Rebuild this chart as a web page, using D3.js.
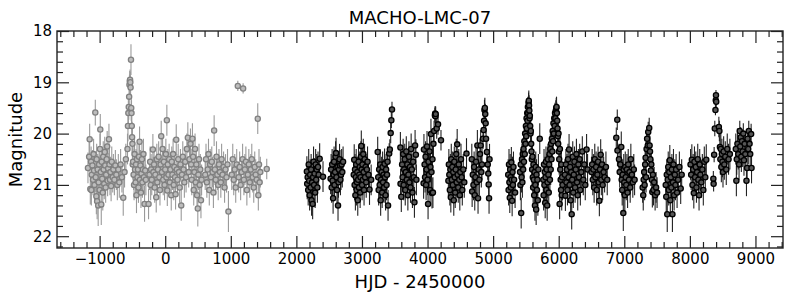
<!DOCTYPE html>
<html>
<head>
<meta charset="utf-8">
<script src="https://cdn.jsdelivr.net/npm/d3@7"></script>
<style>
  body { margin: 0; background: #fff; }
  svg { font-family: "DejaVu Sans", sans-serif; }
</style>
</head>
<body>
<div id="chart"></div>
<script>
// [HJD - 2450000, magnitude, error]
const macho = [
  [-1178,20.67,0.3],[-1160,20.45,0.3],[-1152,20.11,0.3],[-1142,21.08,0.3],[-1130,20.55,0.3],[-1126,21.1,0.3],[-1120,20.8,0.3],
  [-1110,20.62,0.3],[-1100,20.9,0.3],[-1092,20.4,0.3],[-1085,20.72,0.3],[-1078,21.0,0.35],[-1066,19.59,0.25],[-1060,20.85,0.3],
  [-1050,21.22,0.35],[-1045,20.5,0.3],[-1038,21.32,0.35],[-1030,20.7,0.3],[-1022,21.4,0.4],[-1015,20.95,0.3],[-1008,20.6,0.3],
  [-1000,21.1,0.35],[-995,20.3,0.3],[-990,19.92,0.3],[-982,20.75,0.3],[-975,21.38,0.4],[-968,20.55,0.3],[-960,20.88,0.3],
  [-952,21.15,0.35],[-945,20.45,0.3],[-938,20.7,0.3],[-930,20.98,0.3],[-922,20.36,0.3],[-915,20.62,0.3],[-908,21.05,0.3],
  [-900,20.8,0.3],[-892,20.5,0.3],[-885,20.25,0.3],[-878,20.92,0.3],[-870,20.68,0.3],[-858,20.11,0.3],[-850,20.6,0.3],
  [-842,20.9,0.3],[-835,20.75,0.3],[-825,21.02,0.3],[-815,20.55,0.3],[-800,20.85,0.3],[-790,20.7,0.3],[-775,20.9,0.3],
  [-760,20.62,0.3],[-745,20.8,0.3],[-730,21.0,0.3],[-715,20.7,0.3],[-700,20.95,0.3],[-680,20.6,0.3],[-660,20.85,0.3],
  [-640,21.25,0.35],[-620,20.75,0.3],[-600,20.5,0.3],
  [-575,20.3,0.3],[-568,19.85,0.3],[-562,19.6,0.25],[-556,19.48,0.25],[-550,19.28,0.2],[-545,19.05,0.2],[-540,18.98,0.2],
  [-536,18.95,0.2],[-532,19.0,0.2],[-528,19.1,0.2],[-522,18.56,0.3],[-518,19.5,0.25],[-514,19.6,0.25],[-510,19.85,0.3],
  [-505,20.07,0.3],[-500,20.2,0.3],[-495,20.6,0.3],
  [-490,20.55,0.3],[-482,20.8,0.3],[-475,21.0,0.3],[-468,20.4,0.3],[-460,20.7,0.3],[-452,20.95,0.3],[-445,20.6,0.3],
  [-438,21.2,0.35],[-430,20.5,0.3],[-422,20.85,0.3],[-415,20.7,0.3],[-408,21.05,0.3],[-400,20.45,0.3],[-391,20.16,0.3],
  [-385,20.9,0.3],[-378,20.62,0.3],[-370,21.15,0.3],[-362,20.78,0.3],[-355,20.5,0.3],[-348,20.95,0.3],[-340,20.7,0.3],
  [-332,20.4,0.3],[-325,20.85,0.3],[-315,21.37,0.35],[-305,20.72,0.3],[-295,20.9,0.3],
  [-254,21.37,0.3],[-240,20.8,0.3],[-230,20.55,0.3],[-222,21.0,0.3],[-215,20.7,0.3],[-205,20.9,0.3],[-188,20.31,0.3],
  [-180,20.75,0.3],[-170,20.6,0.3],[-160,21.05,0.3],[-150,20.8,0.3],[-137,21.24,0.3],[-128,20.5,0.3],[-120,20.95,0.3],
  [-110,20.7,0.3],[-100,20.45,0.3],[-90,20.85,0.3],[-80,21.1,0.3],[-70,20.6,0.3],[-61,20.05,0.3],[-50,20.75,0.3],
  [-40,20.3,0.3],[-30,20.9,0.3],[-20,20.55,0.3],[-10,21.0,0.3],[0,20.7,0.3],[10,20.4,0.3],[18,20.85,0.3],[25,19.74,0.3],
  [32,21.11,0.3],[40,20.6,0.3],[50,20.8,0.3],[60,20.5,0.3],
  [70,20.95,0.3],[80,20.7,0.3],[92,21.2,0.3],[100,20.55,0.3],[110,20.8,0.3],[120,20.4,0.3],[130,21.0,0.3],[140,20.65,0.3],
  [150,20.85,0.3],[158,21.18,0.3],[168,20.12,0.3],[178,20.7,0.3],[188,20.9,0.3],[198,20.5,0.3],[210,20.75,0.3],
  [220,21.05,0.3],[232,20.6,0.3],[244,21.4,0.3],[255,20.8,0.3],[268,20.45,0.3],[280,20.7,0.3],[292,20.95,0.3],
  [305,20.55,0.3],[318,20.85,0.3],[330,20.3,0.3],[345,20.08,0.3],[358,20.75,0.3],[370,20.5,0.3],
  [385,20.2,0.3],[395,20.6,0.3],[405,20.9,0.3],[415,20.1,0.3],[425,20.45,0.3],[435,21.1,0.3],[445,20.75,0.3],
  [455,20.3,0.3],[465,20.95,0.3],[475,20.6,0.3],[485,21.2,0.3],[497,21.46,0.35],[505,20.8,0.3],[515,20.5,0.3],
  [525,21.0,0.3],[535,20.7,0.3],[545,21.3,0.35],[555,20.9,0.3],
  [610,20.8,0.3],[622,20.5,0.3],[635,20.95,0.3],[648,20.7,0.3],[660,20.4,0.3],[672,21.1,0.3],[685,20.6,0.3],
  [698,20.85,0.3],[710,20.55,0.3],[722,20.75,0.3],[735,21.15,0.3],[746,19.94,0.3],[758,20.7,0.3],[770,20.9,0.3],
  [782,20.45,0.3],[795,20.8,0.3],[808,21.0,0.3],[820,20.6,0.3],[835,20.75,0.3],[848,20.95,0.3],[860,20.5,0.3],
  [875,20.8,0.3],[890,20.65,0.3],[905,21.05,0.3],[920,20.7,0.3],[935,20.85,0.3],[950,20.6,0.3],[964,21.52,0.4],
  [1015,20.8,0.3],[1030,20.5,0.3],[1045,20.9,0.3],[1060,20.7,0.3],[1075,21.05,0.3],[1090,20.6,0.3],[1107,19.07,0.1],
  [1120,20.85,0.3],[1135,20.65,0.3],[1150,21.0,0.3],[1165,20.75,0.3],[1180,20.5,0.3],[1188,19.12,0.1],[1200,20.9,0.3],
  [1215,20.7,0.3],[1230,20.55,0.3],[1245,21.1,0.3],[1260,20.8,0.3],[1275,20.6,0.3],[1290,20.95,0.3],[1305,20.7,0.3],
  [1320,20.5,0.3],[1335,20.85,0.3],[1350,21.05,0.3],[1365,20.65,0.3],[1380,20.8,0.3],[1395,20.9,0.3],[1411,19.71,0.3],
  [1420,21.2,0.3],[1430,20.6,0.3],[1440,20.95,0.3],[1450,20.75,0.3],[1548,20.69,0.2]
];

const ogle = [
  [2160,20.74,0.3],[2165,20.98,0.3],[2172,20.85,0.3],[2180,21.1,0.3],[2188,20.6,0.3],[2195,20.92,0.3],[2202,21.2,0.3],
  [2210,20.8,0.3],[2218,21.05,0.3],[2225,20.7,0.3],[2232,21.3,0.3],[2240,20.95,0.3],[2248,21.37,0.3],[2255,20.85,0.3],
  [2262,20.55,0.3],[2270,21.0,0.3],[2278,20.78,0.3],[2286,21.15,0.3],[2294,20.6,0.3],[2302,20.9,0.3],[2310,20.7,0.3],
  [2320,21.05,0.3],[2330,20.65,0.3],[2340,20.8,0.3],[2355,20.49,0.3],[2406,20.84,0.3],
  [2522,20.88,0.3],[2530,20.7,0.3],[2538,21.05,0.3],[2545,20.6,0.3],[2552,20.92,0.3],[2560,21.26,0.3],[2568,20.8,0.3],
  [2575,20.55,0.3],[2582,21.0,0.3],[2590,20.75,0.3],[2598,20.45,0.3],[2605,20.38,0.3],[2612,20.85,0.3],[2620,21.1,0.3],
  [2628,20.65,0.3],[2635,21.4,0.3],[2642,20.95,0.3],[2650,20.7,0.3],[2658,20.5,0.3],[2665,20.62,0.3],[2672,20.9,0.3],
  [2680,20.8,0.3],[2690,20.6,0.3],[2700,20.75,0.3],[2712,20.55,0.3],
  [2875,20.8,0.3],[2882,20.51,0.3],[2888,21.0,0.3],[2894,20.7,0.3],[2900,21.2,0.3],[2906,20.85,0.3],[2912,20.6,0.3],
  [2918,21.1,0.3],[2924,20.95,0.3],[2930,20.75,0.3],[2936,21.3,0.3],[2942,20.9,0.3],[2948,20.55,0.3],[2954,21.05,0.3],
  [2960,20.8,0.3],[2966,20.65,0.3],[2972,21.15,0.3],[2978,20.85,0.3],[2984,20.45,0.3],[2990,20.24,0.3],[2996,20.7,0.3],
  [3002,21.0,0.3],[3008,20.6,0.3],[3014,20.9,0.3],[3020,20.4,0.3],[3026,20.75,0.3],[3032,21.1,0.3],[3040,20.5,0.3],
  [3048,20.85,0.3],[3056,20.65,0.3],[3065,20.95,0.3],[3075,20.7,0.3],[3085,20.55,0.3],[3100,20.8,0.3],[3115,21.09,0.3],
  [3140,20.9,0.3],
  [3240,20.36,0.3],[3248,20.85,0.3],[3255,21.1,0.3],[3262,20.7,0.3],[3270,21.0,0.3],[3278,20.6,0.3],[3285,21.3,0.3],
  [3292,20.9,0.3],[3300,20.75,0.3],[3308,21.15,0.3],[3315,20.65,0.3],[3322,20.95,0.3],[3330,20.8,0.3],[3338,21.05,0.3],
  [3345,20.59,0.3],[3352,20.85,0.3],[3360,21.2,0.3],[3368,20.7,0.3],[3375,21.0,0.3],[3382,20.8,0.3],[3390,20.55,0.3],
  [3398,21.4,0.3],[3415,20.39,0.2],[3425,20.31,0.2],[3438,19.99,0.2],[3448,19.74,0.15],[3458,19.53,0.15],
  [3586,20.27,0.3],[3588,20.98,0.3],[3600,21.23,0.3],[3612,20.6,0.3],[3620,20.85,0.3],[3628,20.4,0.3],[3636,21.0,0.3],
  [3644,20.7,0.3],[3652,20.5,0.3],[3660,21.1,0.3],[3668,20.75,0.3],[3676,20.35,0.3],[3684,20.9,0.3],[3692,20.6,0.3],
  [3700,21.2,0.3],[3708,20.8,0.3],[3716,20.45,0.3],[3724,20.95,0.3],[3732,20.65,0.3],[3740,21.05,0.3],[3750,20.3,0.3],
  [3760,20.7,0.3],[3770,21.15,0.3],[3780,20.55,0.3],[3790,20.85,0.3],[3800,21.34,0.3],[3810,20.23,0.3],[3822,20.41,0.3],
  [3830,20.9,0.3],
  [3940,20.97,0.3],[3945,20.31,0.3],[3955,20.6,0.3],[3962,20.85,0.3],[3970,20.45,0.3],[3978,21.0,0.3],[3985,20.7,0.3],
  [3992,20.25,0.3],[4000,20.9,0.3],[4008,21.37,0.3],[4015,20.55,0.3],[4022,20.8,0.3],[4030,20.35,0.3],[4038,21.1,0.3],
  [4045,20.65,0.3],[4052,20.01,0.3],[4060,20.75,0.3],[4068,21.16,0.3],[4075,20.5,0.3],[4082,21.15,0.3],[4090,20.2,0.3],
  [4100,19.95,0.2],[4112,19.64,0.15],[4116,19.61,0.15],[4120,19.66,0.15],[4124,19.62,0.15],[4140,19.9,0.2],
  [4160,19.82,0.2],[4205,20.13,0.2],
  [4318,20.92,0.3],[4325,20.6,0.3],[4332,20.8,0.3],[4340,21.1,0.3],[4348,20.7,0.3],[4355,21.24,0.3],[4362,20.5,0.3],
  [4370,20.9,0.3],[4378,20.65,0.3],[4385,21.0,0.3],[4392,20.75,0.3],[4400,21.3,0.3],[4408,20.55,0.3],[4415,20.85,0.3],
  [4422,21.15,0.3],[4430,20.7,0.3],[4438,20.4,0.3],[4445,20.95,0.3],[4452,20.21,0.3],[4460,20.8,0.3],[4468,21.05,0.3],
  [4476,20.6,0.3],[4484,20.9,0.3],[4492,21.2,0.3],[4500,20.75,0.3],[4510,20.5,0.3],[4520,20.85,0.3],[4530,21.1,0.3],
  [4545,20.7,0.3],[4560,20.95,0.3],[4594,20.39,0.3],
  [4675,20.5,0.3],[4680,21.13,0.3],[4690,20.8,0.3],[4700,21.0,0.3],[4710,20.65,0.3],[4720,21.2,0.3],[4730,20.85,0.3],
  [4740,20.55,0.3],[4750,20.95,0.3],[4760,20.23,0.3],[4770,21.26,0.3],[4780,20.7,0.3],[4790,20.9,0.3],[4800,20.4,0.3],
  [4810,20.23,0.3],[4820,20.75,0.3],[4830,20.6,0.3],[4845,20.1,0.2],[4855,19.93,0.2],[4862,19.75,0.2],[4868,19.54,0.2],
  [4874,19.5,0.2],[4880,19.62,0.2],[4886,19.8,0.2],[4892,20.1,0.2],[4905,20.36,0.3],[4918,20.6,0.3],[4926,20.78,0.3],
  [4932,20.99,0.3],[4938,21.26,0.3],[4945,20.5,0.3],
  [5230,20.8,0.3],[5236,21.1,0.3],[5242,20.6,0.3],[5248,20.95,0.3],[5254,21.25,0.3],[5260,20.7,0.3],[5266,20.85,0.3],
  [5272,21.05,0.3],[5278,20.56,0.3],[5284,20.9,0.3],[5290,21.31,0.3],[5296,20.75,0.3],[5302,21.0,0.3],[5310,20.65,0.3],
  [5320,20.9,0.3],[5335,21.15,0.3],
  [5410,20.75,0.3],[5416,21.0,0.3],[5422,20.6,0.3],[5428,21.55,0.3],[5434,20.85,0.3],[5440,20.5,0.3],[5446,20.95,0.3],
  [5452,20.4,0.3],[5458,20.7,0.3],[5464,20.3,0.3],[5470,20.55,0.3],[5476,20.15,0.3],[5482,20.4,0.3],[5488,20.0,0.2],
  [5494,20.2,0.2],[5500,19.85,0.2],[5505,20.05,0.2],[5510,19.7,0.2],[5515,19.9,0.2],[5520,19.6,0.2],[5525,19.75,0.2],
  [5530,19.48,0.2],[5535,19.6,0.2],[5540,19.4,0.2],[5544,19.36,0.2],[5548,19.45,0.2],[5552,19.55,0.2],[5556,19.7,0.2],
  [5560,19.65,0.2],[5565,19.85,0.2],[5570,20.0,0.2],[5575,19.95,0.2],[5580,20.2,0.3],[5585,20.35,0.3],[5590,20.5,0.3],
  [5595,20.7,0.3],[5600,20.45,0.3],[5605,20.85,0.3],[5610,21.05,0.3],[5615,20.6,0.3],[5620,20.9,0.3],[5626,21.2,0.3],
  [5632,20.75,0.3],[5638,21.4,0.3],[5644,21.0,0.3],[5650,20.65,0.3],[5656,21.48,0.3],[5662,20.8,0.3],[5668,21.1,0.3],
  [5675,20.9,0.3],[5682,21.3,0.3],[5690,20.7,0.3],[5711,20.1,0.3],
  [5765,20.9,0.3],[5770,21.2,0.3],[5776,20.6,0.3],[5782,21.0,0.3],[5788,20.75,0.3],[5794,21.35,0.3],[5800,20.85,0.3],
  [5806,20.55,0.3],[5812,21.1,0.3],[5818,20.7,0.3],[5824,21.4,0.3],[5830,20.95,0.3],[5836,20.5,0.3],[5842,20.8,0.3],
  [5848,21.15,0.3],[5854,20.6,0.3],[5860,20.4,0.3],[5866,20.9,0.3],[5872,20.3,0.3],[5878,20.7,0.3],[5884,20.2,0.3],
  [5890,20.5,0.3],[5896,20.1,0.2],[5902,20.35,0.2],[5908,19.95,0.2],[5914,20.15,0.2],[5920,19.8,0.2],[5926,20.0,0.2],
  [5932,19.7,0.2],[5938,19.85,0.2],[5944,19.6,0.2],[5950,19.7,0.2],[5956,19.55,0.2],[5962,19.5,0.2],[5967,19.48,0.2],
  [5972,19.6,0.2],[5977,19.75,0.2],[5982,19.9,0.2],[5987,20.05,0.2],[5992,20.2,0.2],[5997,20.0,0.2],[6002,20.35,0.3],
  [6008,20.5,0.3],[6014,21.37,0.3],[6018,20.3,0.3],[6024,20.7,0.3],[6030,20.9,0.3],[6036,21.1,0.3],[6040,20.6,0.3],
  [6046,21.2,0.3],[6052,20.85,0.3],[6058,21.0,0.3],
  [6095,20.8,0.3],[6102,21.21,0.3],[6110,20.6,0.3],[6118,20.95,0.3],[6126,20.7,0.3],[6134,21.1,0.3],[6142,20.5,0.3],
  [6150,20.85,0.3],[6158,20.31,0.3],[6166,21.0,0.3],[6174,20.65,0.3],[6182,21.3,0.3],[6190,20.75,0.3],[6198,21.57,0.3],
  [6206,20.9,0.3],[6214,20.45,0.3],[6222,21.15,0.3],[6230,20.8,0.3],[6240,20.55,0.3],[6250,21.05,0.3],[6260,20.7,0.3],
  [6270,20.4,0.3],[6280,20.95,0.3],[6290,21.2,0.3],[6300,20.6,0.3],[6310,20.85,0.3],[6320,20.5,0.3],[6330,21.1,0.3],
  [6345,20.75,0.3],[6360,20.35,0.3],[6375,20.9,0.3],[6390,20.6,0.3],[6405,21.0,0.3],[6425,20.31,0.3],[6440,20.7,0.3],
  [6500,20.75,0.3],[6510,20.6,0.3],[6520,20.9,0.3],[6530,20.7,0.3],[6540,21.05,0.3],[6550,20.5,0.3],[6560,20.85,0.3],
  [6570,20.65,0.3],[6580,21.1,0.3],[6590,20.8,0.3],[6600,20.55,0.3],[6610,20.95,0.3],[6620,21.31,0.3],[6630,20.7,0.3],
  [6640,20.41,0.3],[6650,20.9,0.3],[6660,20.6,0.3],[6670,21.0,0.3],[6685,20.75,0.3],[6700,20.85,0.3],[6720,20.65,0.3],
  [6740,20.9,0.3],
  [6878,20.08,0.2],[6893,19.73,0.2],[6896,20.33,0.3],[6919,20.5,0.3],[6930,20.75,0.3],[6940,20.6,0.3],[6954,20.26,0.3],
  [6960,20.9,0.3],[6968,21.1,0.3],[6975,20.8,0.3],[6985,21.55,0.35],[6992,20.7,0.3],[7000,20.95,0.3],[7008,21.2,0.3],
  [7015,20.65,0.3],[7022,20.85,0.3],[7030,21.0,0.3],[7040,20.7,0.3],[7050,21.15,0.3],[7060,20.6,0.3],[7070,20.9,0.3],
  [7080,20.75,0.3],[7090,21.05,0.3],[7100,20.5,0.3],[7115,20.8,0.3],[7130,20.95,0.3],[7145,20.7,0.3],[7157,20.9,0.3],
  [7280,21.05,0.3],[7289,21.2,0.3],[7296,20.9,0.3],[7303,20.75,0.3],[7310,21.0,0.3],[7318,20.6,0.3],[7325,20.47,0.3],
  [7332,20.85,0.3],[7340,20.3,0.3],[7348,20.1,0.2],[7358,20.23,0.2],[7365,19.97,0.2],[7380,19.89,0.2],[7386,20.23,0.2],
  [7392,20.35,0.3],[7398,20.5,0.3],[7405,20.72,0.3],[7412,20.6,0.3],[7420,20.9,0.3],[7428,21.14,0.3],[7436,20.8,0.3],
  [7445,21.1,0.3],[7455,20.95,0.3],[7470,21.2,0.3],[7485,21.05,0.3],[7500,21.15,0.3],
  [7632,21.0,0.3],[7640,21.23,0.3],[7648,20.8,0.3],[7655,21.57,0.35],[7662,20.9,0.3],[7670,20.65,0.3],[7678,21.1,0.3],
  [7686,20.75,0.3],[7694,20.52,0.3],[7702,21.3,0.3],[7710,20.85,0.3],[7718,21.05,0.3],[7726,20.7,0.3],[7734,21.57,0.35],
  [7742,20.95,0.3],[7750,20.6,0.3],[7760,21.2,0.3],[7770,20.8,0.3],[7780,21.0,0.3],[7790,20.7,0.3],[7805,21.15,0.3],
  [7820,20.9,0.3],[7840,20.65,0.3],[7860,21.07,0.3],[7875,20.8,0.3],
  [8010,20.6,0.3],[8020,20.8,0.3],[8030,20.51,0.3],[8040,21.0,0.3],[8050,20.7,0.3],[8060,21.16,0.3],[8070,20.55,0.3],
  [8080,20.85,0.3],[8090,20.65,0.3],[8100,21.05,0.3],[8110,20.75,0.3],[8120,20.5,0.3],[8130,20.9,0.3],[8140,21.2,0.3],
  [8150,20.6,0.3],[8160,20.8,0.3],[8175,20.95,0.3],[8190,20.7,0.3],[8205,21.1,0.3],[8220,20.55,0.3],[8235,20.85,0.3],
  [8250,20.51,0.3],
  [8358,20.88,0.15],[8362,20.98,0.15],[8370,20.41,0.15],[8380,19.9,0.15],[8390,19.54,0.1],[8395,19.35,0.1],
  [8398,19.25,0.1],[8402,19.38,0.1],
  [8442,19.87,0.2],[8450,19.95,0.2],[8458,20.26,0.3],[8465,20.5,0.3],[8472,20.3,0.3],[8480,20.65,0.3],[8488,20.4,0.3],
  [8496,20.55,0.3],[8505,20.75,0.3],[8515,20.35,0.3],[8525,20.6,0.3],[8540,20.45,0.3],[8555,20.7,0.3],[8570,20.3,0.3],
  [8590,20.5,0.3],[8610,20.4,0.3],
  [8700,20.3,0.3],[8709,20.92,0.3],[8715,20.5,0.3],[8725,20.2,0.3],[8738,20.4,0.3],[8750,20.6,0.3],[8761,19.95,0.2],
  [8768,20.25,0.3],[8775,20.07,0.2],[8785,20.45,0.3],[8795,20.15,0.2],[8805,20.35,0.3],[8815,20.0,0.2],[8825,20.52,0.3],
  [8835,20.2,0.2],[8845,20.4,0.3],[8863,20.92,0.3],[8873,20.67,0.3],[8880,20.1,0.2],[8890,20.3,0.3],[8898,19.95,0.2],
  [8910,20.2,0.2],[8920,20.4,0.3],[8934,20.01,0.2],[8940,20.67,0.3]
];

const xMajor = [-1000, 0, 1000, 2000, 3000, 4000, 5000, 6000, 7000, 8000, 9000];
const yMajor = [18, 19, 20, 21, 22];

const W = 793, H = 300;
const margin = { top: 31, right: 10, bottom: 52, left: 57 };
const x = d3.scaleLinear().domain([-1650, 9420]).range([margin.left, W - margin.right]);
const y = d3.scaleLinear().domain([18, 22.23]).range([margin.top, H - margin.bottom]);

const xMinor = d3.range(-1600, 9401, 200).filter(v => v % 1000 !== 0);
const yMinor = d3.range(18.2, 22.21, 0.2).map(v => +v.toFixed(1)).filter(v => v % 1 !== 0);

const svg = d3.select("#chart").append("svg")
  .attr("width", W)
  .attr("height", H);

const axisColor = "#222";

function drawAxis(axis, transform, labels) {
  const g = svg.append("g").attr("transform", transform).call(axis);
  g.select(".domain").remove();
  g.selectAll(".tick line").attr("stroke", axisColor).attr("stroke-width", 1.2);
  g.selectAll(".tick text")
    .attr("fill", "#000")
    .style("font-size", "15px")
    .style("font-family", "DejaVu Sans");
  if (!labels) g.selectAll(".tick text").remove();
  return g;
}

// error bars then markers, MACHO first
function drawSeries(data, barColor, edge, face) {
  svg.append("g").selectAll("line")
    .data(data)
    .join("line")
    .attr("x1", d => x(d[0])).attr("x2", d => x(d[0]))
    .attr("y1", d => y(d[1] - d[2])).attr("y2", d => y(d[1] + d[2]))
    .attr("stroke", barColor)
    .attr("stroke-width", 1.1);

  svg.append("g").selectAll("circle")
    .data(data)
    .join("circle")
    .attr("cx", d => x(d[0]))
    .attr("cy", d => y(d[1]))
    .attr("r", 2.6)
    .attr("fill", face)
    .attr("stroke", edge)
    .attr("stroke-width", 1.3);
}

drawSeries(macho, "#9a9a9a", "#808080", "#bdbdbd");
drawSeries(ogle, "#222", "#000", "#555");

// ticks pointing inward on all four sides
const bottomY = H - margin.bottom, rightX = W - margin.right;
const fmt = d3.format("d");
drawAxis(d3.axisBottom(x).tickValues(xMajor).tickSize(-12).tickPadding(5).tickFormat(fmt), `translate(0,${bottomY})`, true);
drawAxis(d3.axisBottom(x).tickValues(xMinor).tickSize(-6).tickFormat(""), `translate(0,${bottomY})`, false);
drawAxis(d3.axisTop(x).tickValues(xMajor).tickSize(-12), `translate(0,${margin.top})`, false);
drawAxis(d3.axisTop(x).tickValues(xMinor).tickSize(-6), `translate(0,${margin.top})`, false);
drawAxis(d3.axisLeft(y).tickValues(yMajor).tickSize(-12).tickPadding(5).tickFormat(fmt), `translate(${margin.left},0)`, true);
drawAxis(d3.axisLeft(y).tickValues(yMinor).tickSize(-6), `translate(${margin.left},0)`, false);
drawAxis(d3.axisRight(y).tickValues(yMajor).tickSize(-12), `translate(${rightX},0)`, false);
drawAxis(d3.axisRight(y).tickValues(yMinor).tickSize(-6), `translate(${rightX},0)`, false);

svg.append("rect")
  .attr("x", margin.left)
  .attr("y", margin.top)
  .attr("width", rightX - margin.left)
  .attr("height", bottomY - margin.top)
  .attr("fill", "none")
  .attr("stroke", axisColor)
  .attr("stroke-width", 1.4);

svg.append("text")
  .attr("x", (margin.left + rightX) / 2)
  .attr("y", 24)
  .attr("text-anchor", "middle")
  .style("font-size", "18px")
  .text("MACHO-LMC-07");

svg.append("text")
  .attr("x", (margin.left + rightX) / 2)
  .attr("y", 288)
  .attr("text-anchor", "middle")
  .style("font-size", "18px")
  .text("HJD - 2450000");

svg.append("text")
  .attr("transform", `translate(22,${(margin.top + bottomY) / 2}) rotate(-90)`)
  .attr("text-anchor", "middle")
  .style("font-size", "18px")
  .text("Magnitude");
</script>
</body>
</html>
